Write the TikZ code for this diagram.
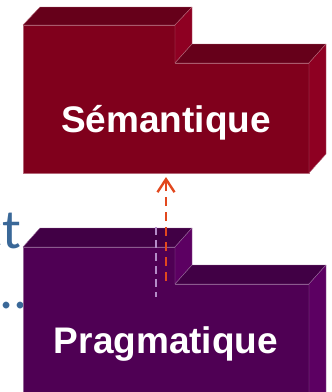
\documentclass[tikz,border=0pt]{standalone}
\usepackage{fontspec}
\setmainfont{Liberation Sans}
\newfontfamily\slidefont{Carlito}
\usetikzlibrary{calc,arrows.meta}

\definecolor{semfront}{HTML}{80001C}
\definecolor{semtop}{HTML}{66001A}
\definecolor{semside}{HTML}{8E0022}
\definecolor{pragfront}{HTML}{4F0054}
\definecolor{pragtop}{HTML}{410045}
\definecolor{pragside}{HTML}{5C0062}
\definecolor{slideblue}{HTML}{3A6898}
\definecolor{dependcol}{HTML}{E2481E}
\definecolor{tracecol}{HTML}{B48CC8}

\tikzset{
  facet/.style={line width=0.4pt, line join=round},
  boxlabel/.style={text=white, font=\bfseries\fontsize{37}{40}\selectfont, inner sep=0pt, anchor=base},
  slidetext/.style={text=slideblue, font=\slidefont\fontsize{56}{60}\selectfont, inner sep=0pt},
  dependency/.style={dependcol, line width=2pt, dash pattern=on 9pt off 6pt, -{Straight Barb[length=13pt,width=17pt,line width=2.4pt]}},
  trace/.style={tracecol, line width=1.6pt, dash pattern=on 8pt off 5pt}
}

\begin{document}
\begin{tikzpicture}[x=1pt,y=-1pt]
\useasboundingbox (0,0) rectangle (332,392);
\clip (0,0) rectangle (332,392);

% text of the slide behind the boxes
\node[slidetext, anchor=base east] (ct) at (21,248) {ct};
\node[slidetext, anchor=base west] (dots) at (-1,308) {...};

% Semantique box
\coordinate (A) at (23,25);
\coordinate (B) at (175,25);
\coordinate (C) at (175,63);
\coordinate (D) at (309,63);
\coordinate (E) at (309,173);
\coordinate (F) at (23,173);
\coordinate (G) at (40,7);
\coordinate (H) at (192,7);
\coordinate (I) at (192,44);
\coordinate (J) at (326,44);
\coordinate (K) at (326,154);

\draw[facet, fill=semfront, draw=semfront!60!white] (A) -- (B) -- (C) -- (D) -- (E) -- (F) -- cycle;
\draw[facet, fill=semtop, draw=semfront!60!white] (A) -- (G) -- (H) -- (B) -- cycle;
\draw[facet, fill=semside, draw=semfront!60!white] (B) -- (H) -- (I) -- (C) -- cycle;
\draw[facet, fill=semtop, draw=semfront!60!white] (C) -- (I) -- (J) -- (D) -- cycle;
\draw[facet, fill=semside, draw=semfront!60!white] (D) -- (J) -- (K) -- (E) -- cycle;

% Pragmatique box
\coordinate (L) at (23,247);
\coordinate (M) at (175,247);
\coordinate (N) at (175,284);
\coordinate (O) at (309,284);
\coordinate (P) at (309,420);
\coordinate (Q) at (23,420);
\coordinate (R) at (40,228);
\coordinate (S) at (192,228);
\coordinate (T) at (192,265);
\coordinate (U) at (326,265);
\coordinate (V) at (326,420);

\draw[facet, fill=pragfront, draw=pragfront!60!white] (L) -- (M) -- (N) -- (O) -- (P) -- (Q) -- cycle;
\draw[facet, fill=pragtop, draw=pragfront!60!white] (L) -- (R) -- (S) -- (M) -- cycle;
\draw[facet, fill=pragside, draw=pragfront!60!white] (M) -- (S) -- (T) -- (N) -- cycle;
\draw[facet, fill=pragtop, draw=pragfront!60!white] (N) -- (T) -- (U) -- (O) -- cycle;
\draw[facet, fill=pragside, draw=pragfront!60!white] (O) -- (U) -- (V) -- (P) -- cycle;

\node[boxlabel] (sem) at (166,132) {Sémantique};
\node[boxlabel] (prag) at (166,353) {Pragmatique};

% dependency arrow
\coordinate (tail) at (166,281);
\coordinate (head) at (166,177);
\coordinate (traceTop) at (156,227);
\coordinate (traceBot) at (156,297);
\draw[trace] (traceTop) -- (traceBot);
\draw[dependency] (tail) -- (head);

\end{tikzpicture}
\end{document}
